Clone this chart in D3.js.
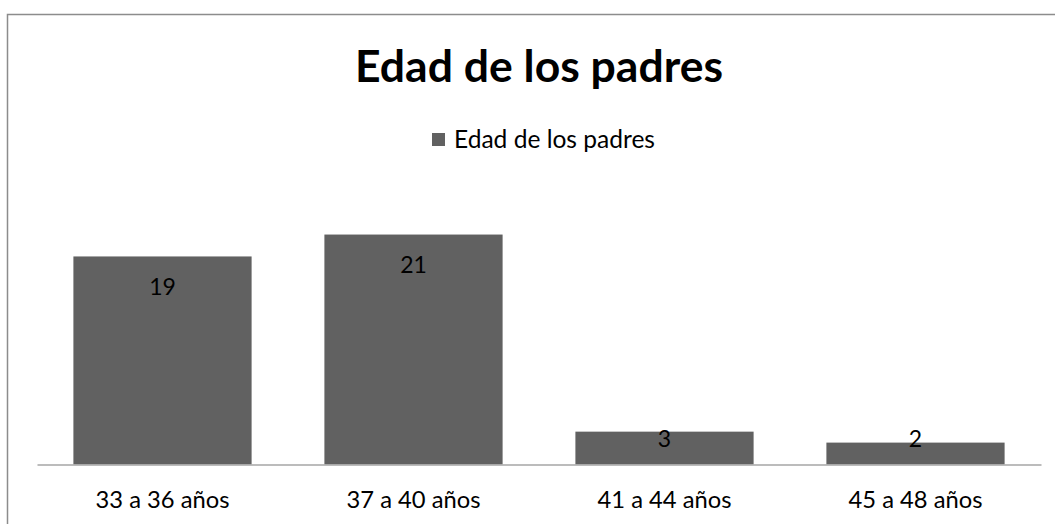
<!DOCTYPE html>
<html>
<head>
<meta charset="utf-8">
<script src="https://cdn.jsdelivr.net/npm/d3@7"></script>
<style>
  html, body { margin: 0; padding: 0; background: #fff; overflow: hidden; }
  svg { display: block; font-family: Lato, "Open Sans", sans-serif; }
</style>
</head>
<body>
<svg id="chart" width="1055" height="524"></svg>
<script>
// Data
const chartTitle = "Edad de los padres";
const seriesName = "Edad de los padres";
const categories = ["33 a 36 años", "37 a 40 años", "41 a 44 años", "45 a 48 años"];
const values = [19, 21, 3, 2];

const W = 1055, H = 524;
const barColor = "#616161";
const svg = d3.select("#chart");

// Chart frame (only the top and left edges fall inside the view)
svg.append("rect")
  .attr("x", 7.5).attr("y", 14.5)
  .attr("width", W + 20).attr("height", H + 20)
  .attr("fill", "#fff")
  .attr("stroke", "#8c8c8c")
  .attr("stroke-width", 1.5);

// Scales
const x = d3.scaleBand()
  .domain(categories)
  .range([37, 1041])
  .paddingInner(0.29)
  .paddingOuter(0.145);

const baseY = 464.5;
const y = d3.scaleLinear().domain([0, 25]).range([baseY, baseY - 25 * 10.95]);

// Scales a text's font-size so it spans the given width
function fitText(sel, target) {
  const fs = parseFloat(sel.attr("font-size"));
  const w = sel.node().getComputedTextLength();
  sel.attr("font-size", (fs * target / w).toFixed(2));
}

// Title
const title = svg.append("text")
  .attr("x", 539).attr("y", 82)
  .attr("text-anchor", "middle")
  .attr("font-size", 38)
  .attr("font-weight", "bold")
  .attr("fill", "#000")
  .text(chartTitle);
fitText(title, 368);

// Legend
svg.append("rect")
  .attr("x", 432).attr("y", 133)
  .attr("width", 13).attr("height", 13)
  .attr("fill", barColor);
const legendText = svg.append("text")
  .attr("x", 454).attr("y", 148)
  .attr("font-size", 20)
  .attr("fill", "#000")
  .text(seriesName);
fitText(legendText, 201);

// Bars
const g = svg.append("g");
g.selectAll("rect.bar")
  .data(values)
  .join("rect")
  .attr("class", "bar")
  .attr("x", (d, i) => x(categories[i]))
  .attr("y", d => y(d))
  .attr("width", x.bandwidth())
  .attr("height", d => y(0) - y(d))
  .attr("fill", barColor);

// Category axis
const axis = svg.append("g")
  .attr("transform", `translate(0,${baseY})`)
  .call(d3.axisBottom(x).tickSize(0).tickPadding(0));
axis.attr("font-size", null).attr("font-family", null);
axis.select(".domain").attr("stroke", "#a6a6a6").attr("stroke-width", 1.3);
axis.selectAll("text")
  .attr("font-size", 20)
  .attr("fill", "#000")
  .attr("dy", null)
  .attr("y", 43);
const probe = axis.select("text");
const w0 = probe.node().getComputedTextLength();
axis.selectAll("text").attr("font-size", (20 * 134 / w0).toFixed(2));

// Value labels, inside the top of each bar
g.selectAll("text.val")
  .data(values)
  .join("text")
  .attr("class", "val")
  .attr("x", (d, i) => x(categories[i]) + x.bandwidth() / 2)
  .attr("y", d => Math.min(y(d) + 30, y(0) - 26))
  .attr("dy", "0.35em")
  .attr("text-anchor", "middle")
  .attr("font-size", 23)
  .attr("fill", "#000")
  .text(d => d);
</script>
</body>
</html>
